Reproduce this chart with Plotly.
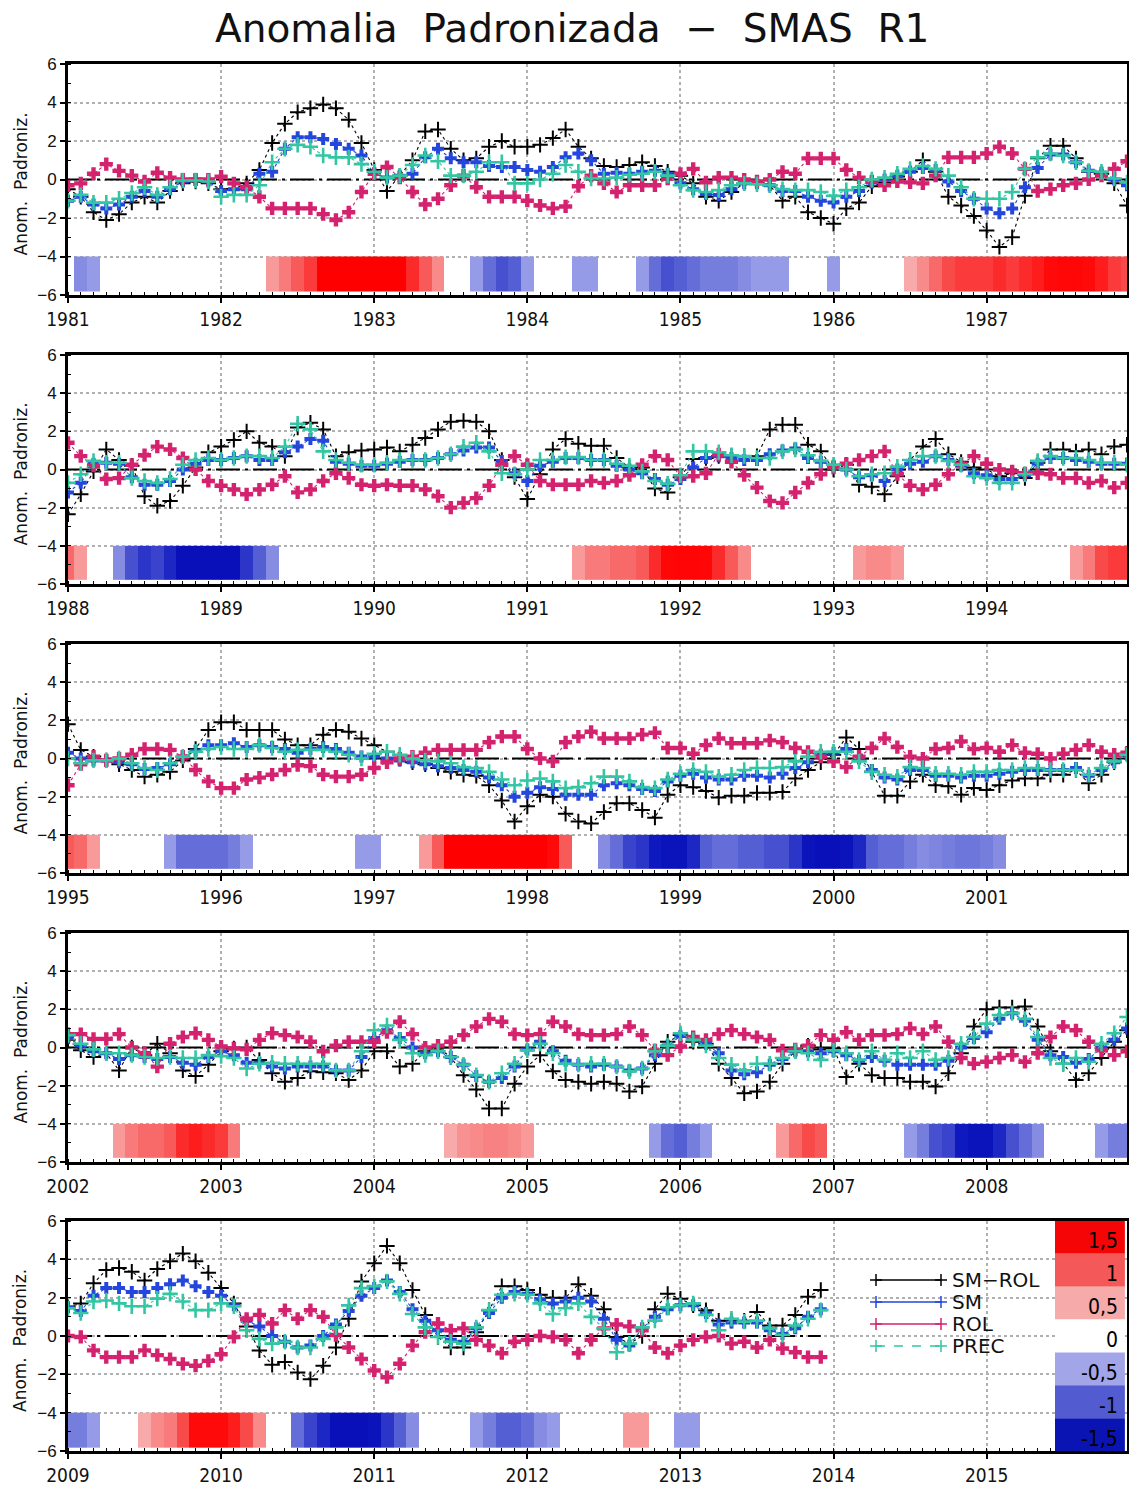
import plotly.graph_objects as go

# ------------------------------------------------------------------ data
start_years = [1981, 1988, 1995, 2002, 2009]
series_names = ["SM−ROL", "SM", "ROL", "PREC"]

smrol_1981 = [-0.5,-0.9,-1.7,-2.1,-1.8,-1.2,-0.9,-1.2,-0.6,-0.2,-0.1,-0.2,
              -0.5,-0.5,-0.2,0.5,1.9,2.9,3.5,3.7,3.9,3.7,3.1,1.9,
              0.5,-0.6,0.2,1.0,2.5,2.6,1.6,1.0,1.1,1.7,2.0,1.7,
              1.7,1.8,2.15,2.6,1.7,1.1,0.7,0.65,0.75,0.9,0.7,0.4,
              0.2,-0.2,-0.9,-1.1,-0.65,-0.2,-0.2,-0.3,-1.1,-0.9,-1.7,-2.0,
              -2.3,-1.5,-1.2,-0.35,-0.15,0.15,0.4,1.0,0.4,-0.9,-1.35,-1.9,
              -2.65,-3.5,-3.0,-0.85,1.1,1.75,1.75,1.1,0.4,0.3,-0.2,-1.35]
sm_1981 = [-1.1,-0.9,-1.3,-1.5,-1.3,-0.9,-0.6,-0.9,-0.5,-0.1,0.0,-0.1,
           -0.6,-0.5,-0.5,0.3,0.4,1.6,2.2,2.2,2.1,1.85,1.6,1.25,
           0.3,0.1,0.2,0.3,1.15,1.6,1.1,0.9,0.9,0.7,0.65,0.65,
           0.5,0.4,0.65,1.15,1.35,1.0,0.3,0.35,0.3,0.4,0.45,0.3,
           -0.2,-0.5,-0.75,-0.8,-0.5,-0.2,-0.2,-0.3,-0.6,-0.6,-0.9,-1.1,
           -1.2,-0.9,-0.6,-0.15,0.0,0.2,0.4,0.6,0.5,-0.1,-0.6,-1.0,
           -1.5,-1.75,-1.5,-0.4,0.6,1.3,1.3,0.9,0.45,0.35,0.0,-0.3]
rol_1981 = [-0.3,-0.2,0.3,0.8,0.45,0.2,-0.1,0.35,0.1,0.0,0.0,0.0,
            0.15,-0.2,-0.4,-0.9,-1.5,-1.5,-1.5,-1.5,-1.8,-2.1,-1.7,-0.65,
            0.3,0.65,0.1,-0.65,-1.3,-1.0,-0.3,0.2,-0.4,-0.9,-0.9,-0.9,
            -1.1,-1.35,-1.5,-1.4,-0.35,0.2,-0.2,-0.65,-0.3,-0.3,-0.3,0.05,
            0.3,0.55,-0.15,0.1,0.1,0.0,-0.1,0.0,0.4,0.3,1.1,1.1,
            1.1,0.5,0.1,-0.1,-0.3,-0.1,-0.15,-0.2,0.2,1.15,1.15,1.15,
            1.35,1.7,1.35,0.55,-0.6,-0.5,-0.3,-0.2,0.0,0.2,0.55,0.95]
prec_1981 = [-1.1,-0.8,-1.2,-1.2,-1.0,-0.7,-0.4,-0.8,-0.4,-0.05,-0.05,-0.1,
             -0.9,-0.8,-0.8,-0.3,0.9,1.6,1.8,1.7,1.25,1.15,1.15,0.8,
             0.4,0.1,0.2,0.75,1.25,0.95,0.2,0.2,0.4,0.9,0.9,-0.2,
             -0.2,0.0,0.3,0.75,0.4,0.05,0.05,0.1,0.25,0.3,0.4,0.2,
             -0.3,-0.55,-0.65,-0.55,-0.3,-0.2,-0.25,-0.3,-0.5,-0.55,-0.55,-0.65,
             -0.85,-0.55,-0.4,0.0,0.1,0.3,0.55,0.7,0.55,0.2,-0.4,-1.0,
             -1.0,-1.0,-0.65,0.55,1.15,1.35,1.25,0.9,0.45,0.4,0.05,-0.15]
oni_1981 = [0,-0.7,-0.6,0,0,0,0,0,0,0,0,0,
            0,0,0,0,0.6,0.8,1.0,1.2,2.0,2.0,2.0,2.0,
            2.0,2.0,2.0,1.3,1.0,0.7,0,0,-0.6,-0.9,-1.1,-1.0,
            -0.6,0,0,0,-0.6,-0.6,0,0,0,-0.6,-0.9,-1.1,
            -1.0,-0.9,-0.8,-0.8,-0.8,-0.7,-0.6,-0.6,-0.6,0,0,0,
            -0.6,0,0,0,0,0,0.5,0.7,0.9,1.1,1.2,1.2,
            1.2,1.3,1.2,1.3,1.4,1.6,1.7,1.7,1.6,1.4,1.2,1.1]

smrol_1988 = [-2.35,-1.3,-0.1,1.05,0.5,0.2,-1.4,-1.9,-1.65,-0.85,0.1,0.9,
              1.2,1.55,2.0,1.4,1.2,0.7,2.2,2.45,2.1,0.7,0.9,1.0,
              1.05,1.15,0.95,1.3,1.65,2.1,2.5,2.55,2.5,2.0,0.5,-0.4,
              -1.55,-0.25,1.05,1.6,1.35,1.25,1.25,0.6,0.1,0.1,-1.0,-1.2,
              -0.4,0.55,0.6,0.7,0.7,0.7,0.7,2.1,2.35,2.35,1.3,0.95,
              0.0,0.25,-0.8,-0.9,-1.3,-0.35,0.5,1.2,1.6,0.8,0.4,0.1,
              0.0,-0.35,-0.2,-0.45,0.35,1.05,1.05,0.95,1.05,0.8,1.2,1.3]
sm_1988 = [-1.2,-0.7,0.3,0.35,0.3,-0.4,-0.8,-0.8,-0.6,0.0,0.3,0.5,
           0.5,0.6,0.7,0.5,0.5,0.9,1.2,1.6,1.5,0.4,0.3,0.2,
           0.2,0.3,0.4,0.5,0.5,0.6,0.8,1.0,1.15,1.15,0.45,-0.2,
           -0.6,0.2,0.4,0.6,0.6,0.5,0.5,0.2,0.0,-0.2,-0.5,-0.8,
           -0.5,0.1,0.6,0.7,0.6,0.5,0.5,0.8,1.0,1.1,0.6,0.4,
           0.2,0.0,-0.4,-0.3,-0.6,0.0,0.3,0.4,0.7,0.5,0.2,-0.2,
           -0.3,-0.5,-0.5,-0.3,0.3,0.6,0.6,0.5,0.4,0.3,0.3,0.3]
rol_1988 = [1.4,0.7,0.2,-0.5,-0.45,0.25,0.75,1.2,1.05,0.6,0.0,-0.6,
            -0.85,-1.05,-1.3,-1.05,-0.8,-0.35,-1.2,-1.05,-0.6,-0.2,-0.45,-0.8,
            -0.85,-0.8,-0.85,-0.85,-1.05,-1.4,-2.0,-1.75,-1.5,-0.85,0.25,0.7,
            0.25,-0.6,-0.8,-0.8,-0.8,-0.6,-0.7,-0.6,-0.3,0.25,0.7,0.5,
            -0.35,-0.35,-0.2,0.8,0.4,-0.3,-0.95,-1.65,-1.75,-1.2,-0.7,-0.25,
            0.1,0.3,0.5,0.7,0.95,-0.25,-0.85,-1.05,-0.8,-0.25,0.3,0.7,
            0.3,0.0,-0.1,-0.2,-0.2,-0.25,-0.45,-0.45,-0.7,-0.6,-0.95,-0.7]
prec_1988 = [-0.7,-0.25,0.45,0.35,0.35,-0.45,-0.6,-0.7,-0.5,0.25,0.5,0.6,
             0.5,0.6,0.7,0.7,0.6,1.2,2.4,2.1,0.95,0.5,0.35,0.25,
             0.25,0.35,0.5,0.5,0.5,0.6,0.8,1.2,1.4,0.95,-0.2,-0.25,
             0.0,0.5,0.5,0.65,0.65,0.5,0.5,0.3,0.2,-0.1,-0.6,-0.75,
             -0.3,0.95,0.95,0.9,0.75,0.7,0.6,0.6,0.95,1.05,0.75,0.45,
             0.25,0.0,-0.35,-0.25,-0.2,0.15,0.5,0.7,0.7,0.45,0.25,-0.35,
             -0.45,-0.7,-0.7,-0.25,0.45,0.7,0.6,0.6,0.5,0.35,0.35,0.25]
oni_1988 = [0.9,0.6,0,0,-0.7,-1.1,-1.3,-1.2,-1.4,-1.8,-1.8,-1.8,
            -1.8,-1.8,-1.3,-1.0,-0.7,0,0,0,0,0,0,0,
            0,0,0,0,0,0,0,0,0,0,0,0,
            0,0,0,0,0.6,0.8,0.8,0.9,0.9,1.0,1.3,1.7,
            1.8,1.8,1.7,1.3,1.0,0.7,0,0,0,0,0,0,
            0,0,0.6,0.7,0.7,0.6,0,0,0,0,0,0,
            0,0,0,0,0,0,0,0.6,0.8,1.1,1.2,1.2]

smrol_1995 = [1.8,0.45,0.1,-0.1,-0.3,-0.6,-0.95,-0.85,-0.7,-0.1,0.5,1.5,
              1.9,1.9,1.5,1.5,1.5,1.0,0.7,0.7,1.25,1.5,1.4,1.05,
              0.7,0.35,0.0,-0.2,-0.3,-0.5,-0.7,-0.85,-0.9,-1.4,-2.2,-3.3,
              -2.5,-1.9,-2.0,-2.9,-3.3,-3.4,-2.8,-2.35,-2.35,-2.7,-3.1,-1.9,
              -1.4,-1.5,-1.7,-2.05,-1.95,-1.95,-1.8,-1.8,-1.75,-1.05,-0.6,-0.2,
              0.2,1.1,0.5,-0.7,-1.95,-1.95,-1.2,-0.85,-1.4,-1.45,-1.9,-1.55,
              -1.65,-1.4,-1.15,-1.05,-1.05,-0.85,-0.85,-0.6,-1.3,-0.85,-0.2,0.25]
sm_1995 = [0.3,0.0,-0.1,-0.1,-0.2,-0.3,-0.55,-0.5,-0.3,0.1,0.4,0.7,
           0.7,0.8,0.6,0.7,0.6,0.5,0.3,0.5,0.6,0.5,0.3,0.1,
           0.1,0.0,-0.1,-0.2,-0.3,-0.4,-0.5,-0.6,-0.7,-1.0,-1.4,-2.0,
           -1.8,-1.5,-1.6,-1.9,-1.9,-1.9,-1.4,-1.3,-1.4,-1.6,-1.7,-1.2,
           -0.9,-0.8,-1.0,-1.1,-1.1,-0.9,-0.9,-1.0,-0.8,-0.5,-0.2,0.2,
           0.3,0.5,0.0,-0.6,-1.0,-1.1,-0.6,-0.6,-0.9,-0.9,-1.0,-0.9,
           -0.9,-0.8,-0.7,-0.6,-0.6,-0.6,-0.6,-0.5,-0.9,-0.6,-0.2,0.2]
rol_1995 = [-1.4,-0.3,0.1,-0.1,0.0,0.2,0.5,0.5,0.45,0.1,-0.6,-1.2,
            -1.55,-1.55,-1.1,-1.0,-0.85,-0.6,-0.35,-0.4,-0.85,-0.95,-0.95,-0.85,
            -0.5,-0.2,0.0,0.1,0.3,0.45,0.45,0.45,0.45,0.85,1.15,1.15,
            0.5,0.0,-0.15,0.85,1.15,1.4,1.05,1.05,1.05,1.25,1.35,0.55,
            0.55,0.25,0.7,1.05,0.8,0.8,0.8,0.95,0.85,0.55,0.35,0.1,
            -0.15,-0.45,0.1,0.55,1.05,0.6,0.1,0.0,0.5,0.55,0.9,0.5,
            0.55,0.35,0.7,0.3,0.25,0.0,0.25,0.45,0.7,0.35,0.2,0.3]
prec_1995 = [0.0,-0.25,-0.1,-0.1,0.0,-0.25,-0.5,-0.6,-0.25,0.1,0.35,0.5,
             0.6,0.5,0.5,0.7,0.55,0.35,0.45,0.45,0.45,0.35,0.2,0.0,
             0.25,0.35,0.2,0.0,-0.1,-0.15,-0.25,-0.45,-0.5,-0.7,-1.1,-1.4,
             -1.15,-1.05,-1.2,-1.55,-1.5,-1.3,-0.95,-0.95,-1.2,-1.5,-1.55,-1.1,
             -0.8,-0.6,-0.7,-0.95,-0.85,-0.6,-0.5,-0.5,-0.45,-0.15,0.1,0.35,
             0.35,0.35,-0.15,-0.7,-0.85,-0.95,-0.45,-0.5,-0.8,-0.8,-0.85,-0.7,
             -0.7,-0.6,-0.6,-0.5,-0.5,-0.6,-0.6,-0.6,-0.85,-0.5,-0.15,0.2]
oni_1995 = [1.0,0.9,0.6,0,0,0,0,0,-0.6,-0.9,-0.9,-0.9,
            -0.9,-0.8,-0.6,0,0,0,0,0,0,0,0,-0.6,
            -0.6,0,0,0,0.6,1.0,2.0,2.0,2.0,2.0,2.0,2.0,
            2.0,2.0,1.6,1.0,0,0,-0.7,-0.9,-1.2,-1.3,-1.5,-1.7,
            -1.7,-1.4,-1.0,-0.9,-0.9,-1.0,-1.0,-1.1,-1.1,-1.3,-1.7,-1.8,
            -1.8,-1.7,-1.4,-1.0,-0.9,-0.9,-0.8,-0.7,-0.75,-0.8,-0.85,-0.85,
            -0.8,-0.7,0,0,0,0,0,0,0,0,0,0]

smrol_2002 = [0.4,-0.15,-0.5,-0.3,-1.2,0.0,-0.4,0.2,-0.3,-1.2,-1.5,-0.9,
              -0.2,-0.05,0.0,-0.65,-1.35,-1.8,-1.6,-1.25,-1.3,-1.35,-1.7,-1.2,
              -0.2,-0.2,-1.0,-0.85,-0.2,0.0,-0.5,-1.45,-2.2,-3.2,-3.2,-1.9,
              -1.0,-0.4,-1.25,-1.7,-1.8,-1.9,-1.8,-1.9,-2.3,-2.05,-0.85,0.3,
              0.65,0.3,0.2,-0.85,-1.6,-2.4,-2.3,-1.8,-0.85,-0.2,0.1,-0.1,
              -0.05,-1.55,-0.85,-1.45,-1.6,-1.6,-1.8,-1.8,-2.05,-1.35,-0.3,1.1,
              2.0,2.1,2.1,2.15,1.1,-0.2,-0.85,-1.7,-1.35,-0.55,0.3,0.9]
sm_2002 = [0.5,0.1,-0.2,-0.3,-0.6,-0.4,-0.5,-0.6,-0.5,-0.8,-0.9,-0.5,
           -0.2,-0.4,-0.8,-0.8,-1.0,-1.1,-1.0,-1.0,-1.0,-1.2,-1.2,-0.5,
           0.5,0.9,0.5,0.0,-0.3,-0.2,-0.5,-0.9,-1.5,-1.8,-1.6,-1.0,
           -0.1,0.3,-0.2,-0.7,-0.9,-1.0,-0.9,-1.0,-1.2,-1.1,-0.4,0.1,
           0.6,0.4,0.2,-0.3,-1.2,-1.4,-1.3,-0.9,-0.6,-0.2,-0.2,-0.3,
           -0.2,-0.4,-0.7,-0.5,-0.7,-0.9,-0.9,-0.9,-0.9,-0.7,0.0,0.5,
           0.8,1.5,1.8,1.4,0.4,-0.4,-0.5,-0.8,-0.6,0.0,0.4,1.0]
rol_2002 = [0.7,0.7,0.45,0.45,0.7,0.0,-0.3,-1.0,0.2,0.55,0.75,0.4,
            0.05,-0.05,-0.1,0.4,0.75,0.65,0.55,0.3,-0.2,0.1,0.3,0.3,
            0.3,0.8,1.35,0.7,0.0,0.1,0.3,0.65,1.1,1.5,1.35,0.7,
            0.65,0.7,1.35,1.1,0.7,0.65,0.65,0.7,1.1,0.65,-0.15,-0.4,
            0.05,0.55,0.4,0.7,0.9,0.7,0.55,0.4,-0.15,-0.1,0.1,0.65,
            0.4,0.8,0.4,0.65,0.65,0.7,1.0,0.7,1.1,0.3,-0.55,-0.85,
            -0.75,-0.55,-0.4,-0.75,-0.3,0.55,1.1,0.9,0.3,-0.15,-0.4,-0.2]
prec_2002 = [0.65,0.2,-0.1,-0.3,-0.3,-0.4,-0.5,-0.55,-0.5,-0.55,-0.55,-0.4,
             -0.45,-0.55,-1.1,-0.85,-0.8,-0.85,-0.85,-0.85,-0.85,-1.2,-1.2,-0.2,
             0.9,1.15,0.4,-0.3,-0.4,-0.2,-0.5,-0.9,-1.45,-1.8,-1.35,-0.85,
             -0.15,0.2,-0.3,-0.85,-0.9,-0.85,-0.85,-1.0,-1.25,-1.1,-0.2,0.1,
             0.75,0.4,0.1,-0.55,-0.9,-1.2,-0.85,-0.85,-0.55,-0.2,-0.3,-0.65,
             -0.15,-0.3,-0.65,-0.2,-0.65,-0.3,-0.55,-0.2,-0.65,-0.55,0.2,0.55,
             1.25,1.7,1.8,1.5,0.55,-0.55,-0.85,-0.55,-0.75,0.2,0.75,1.6]
oni_2002 = [0,0,0,0,0.6,0.8,0.9,0.9,1.0,1.3,1.4,1.3,
            1.2,0.8,0,0,0,0,0,0,0,0,0,0,
            0,0,0,0,0,0,0.5,0.65,0.7,0.75,0.75,0.7,
            0.6,0,0,0,0,0,0,0,0,0,-0.6,-0.9,
            -1.0,-0.8,-0.6,0,0,0,0,0,0.6,0.9,1.1,1.0,
            0,0,0,0,0,0,-0.6,-0.8,-1.1,-1.2,-1.5,-1.7,
            -1.7,-1.4,-1.1,-0.9,-0.7,0,0,0,0,-0.6,-0.8,-0.8]

smrol_2009 = [1.5,1.7,2.75,3.45,3.55,3.35,2.9,3.5,3.9,4.3,3.9,3.3,
              2.5,1.7,0.5,-0.75,-1.5,-1.35,-1.9,-2.25,-1.55,-0.6,0.9,2.85,
              3.8,4.7,3.8,2.4,1.1,-0.05,-0.6,-0.6,0.2,1.35,2.6,2.6,
              2.4,2.15,2.0,2.0,2.7,2.1,1.4,-0.05,-0.4,0.0,1.4,2.2,
              1.95,1.6,1.35,0.8,0.8,0.8,1.25,0.55,0.55,1.1,2.05,2.4]
sm_2009 = [1.5,1.3,2.1,2.5,2.5,2.3,2.3,2.5,2.7,2.9,2.6,2.3,
           2.1,1.6,0.8,0.5,0.0,-0.3,-0.6,-0.5,0.0,0.6,1.3,2.1,
           2.5,2.9,2.3,1.4,0.8,0.3,-0.2,-0.3,0.4,1.2,2.0,2.3,
           2.2,1.9,1.7,1.8,2.0,1.8,0.9,-0.2,-0.5,0.4,1.0,1.4,
           1.6,1.6,1.2,0.6,0.7,0.7,0.7,0.3,0.1,0.4,1.0,1.4]
rol_2009 = [0.0,-0.05,-0.75,-1.1,-1.1,-1.1,-0.75,-1.0,-1.2,-1.45,-1.55,-1.3,
            -0.95,-0.05,0.9,1.1,0.65,1.35,0.9,1.35,1.0,0.05,-0.6,-1.2,
            -1.8,-2.15,-1.45,-0.5,0.2,0.65,0.3,0.4,-0.2,-0.5,-0.9,-0.3,
            -0.2,0.0,-0.05,-0.2,-0.9,-0.2,0.4,0.6,0.5,0.3,-0.6,-0.9,
            -0.5,-0.2,-0.05,0.0,-0.4,-0.3,-0.6,-0.2,-0.65,-0.85,-1.1,-1.1]
prec_2009 = [1.45,1.2,1.8,1.85,1.7,1.55,1.55,1.95,2.2,1.8,1.35,1.35,
             1.7,1.55,0.3,-0.15,-0.4,-0.3,-0.6,-0.6,-0.15,0.45,1.6,2.5,
             2.6,2.85,2.2,1.15,0.45,-0.05,-0.3,-0.4,0.45,1.35,2.15,2.2,
             2.15,1.7,1.15,1.45,1.7,1.0,0.4,-0.85,-0.4,0.45,0.8,1.5,
             1.6,1.7,1.1,0.3,0.9,0.75,0.8,0.4,0.05,0.55,0.9,1.35]
oni_2009 = [-0.8,-0.8,-0.6,0,0,0,0.5,0.7,0.8,1.1,1.6,1.6,
            1.6,1.4,1.1,0.7,0,0,-0.9,-1.2,-1.4,-1.8,-1.8,-1.8,
            -1.7,-1.3,-1.0,-0.7,0,0,0,0,-0.6,-0.8,-1.0,-1.0,
            -0.9,-0.7,-0.6,0,0,0,0,0,0.6,0.6,0,0,
            -0.6,-0.6,0,0,0,0,0,0,0,0,0,0]

panels = [
    (smrol_1981, sm_1981, rol_1981, prec_1981, oni_1981),
    (smrol_1988, sm_1988, rol_1988, prec_1988, oni_1988),
    (smrol_1995, sm_1995, rol_1995, prec_1995, oni_1995),
    (smrol_2002, sm_2002, rol_2002, prec_2002, oni_2002),
    (smrol_2009, sm_2009, rol_2009, prec_2009, oni_2009),
]
months_per_panel = 84
cbar_labels = ["1,5", "1", "0,5", "0", "-0,5", "-1", "-1,5"]
cbar_colors = ["rgb(245,5,5)", "rgb(245,88,88)", "rgb(246,170,170)", "rgb(255,255,255)",
               "rgb(162,166,232)", "rgb(82,92,208)", "rgb(10,20,178)"]

# ------------------------------------------------------------------ style
W, H = 1129, 1485
tops = [64, 355, 644, 933, 1221]
bots = [295, 584, 873, 1162, 1451]
XL, XR = 68, 1127

col = {"SM−ROL": "#000000", "SM": "#2446dc", "ROL": "#d4226f", "PREC": "#33c6a3"}
mk = {
    "SM−ROL": dict(symbol="cross-thin", size=11, line=dict(width=2, color=col["SM−ROL"])),
    "SM": dict(symbol="cross", size=10, color=col["SM"], line=dict(width=0)),
    "ROL": dict(symbol="cross", size=11, color=col["ROL"], line=dict(width=0)),
    "PREC": dict(symbol="cross-thin", size=11, line=dict(width=2.6, color=col["PREC"])),
}
strip_cs = [[0.0, "rgb(5,10,180)"], [0.125, "rgb(15,25,192)"], [0.25, "rgb(85,95,212)"],
            [0.375, "rgb(165,170,234)"], [0.5, "rgb(255,255,255)"],
            [0.625, "rgb(248,170,170)"], [0.75, "rgb(248,90,90)"],
            [0.875, "rgb(255,12,12)"], [1.0, "rgb(255,0,0)"]]
narrow = "Liberation Sans Narrow, DejaVu Sans Condensed, Arial Narrow, sans-serif"

fig = go.Figure()
layout = dict(width=W, height=H, margin=dict(l=0, r=0, t=0, b=0),
              paper_bgcolor="white", plot_bgcolor="white", showlegend=False)
annotations = []
shapes = []

for i, (smrol, sm, rol, prec, oni) in enumerate(panels):
    sfx = "" if i == 0 else str(i + 1)
    xa, ya = "x" + sfx, "y" + sfx
    months = list(range(len(smrol)))
    # ENSO strip
    z = [[(v if abs(v) >= 0.5 else None) for v in oni]]
    fig.add_trace(go.Heatmap(z=z, x=list(range(len(oni))), y=[-5.8, -4.0],
                             colorscale=strip_cs, zmin=-2, zmax=2, showscale=False,
                             hoverinfo="skip", xaxis=xa, yaxis=ya))
    # zero reference line
    fig.add_trace(go.Scatter(x=[months[0], months[-1]], y=[0, 0], mode="lines",
                             line=dict(color="black", width=2, dash="24px,5px,3px,5px"),
                             hoverinfo="skip", xaxis=xa, yaxis=ya))
    for name, vals in zip(series_names, (smrol, sm, rol, prec)):
        fig.add_trace(go.Scatter(x=months, y=vals, mode="lines+markers", name=name,
                                 line=dict(color=col[name], width=1.1, dash="dot"),
                                 marker=mk[name], xaxis=xa, yaxis=ya))
    y0 = start_years[i]
    layout["xaxis" + sfx] = dict(
        domain=[XL / W, XR / W], anchor=ya, range=[0, months_per_panel - 1],
        tickmode="array", tickvals=[12 * j for j in range(7)],
        ticktext=[str(y0 + j) for j in range(7)],
        ticks="outside", ticklen=5, tickwidth=2, tickcolor="black",
        showline=True, linewidth=3, linecolor="black", mirror=True,
        showgrid=True, gridcolor="#b0b0b0", griddash="dot", gridwidth=1.5,
        zeroline=False, automargin=False,
        tickfont=dict(family=narrow, size=19, color="#111"),
        minor=dict(dtick=1, tick0=0, ticks="inside", ticklen=3, tickwidth=1,
                   tickcolor="black", showgrid=False))
    layout["yaxis" + sfx] = dict(
        domain=[1 - bots[i] / H, 1 - tops[i] / H], anchor=xa, range=[-6, 6],
        tickmode="array", tickvals=[-6, -4, -2, 0, 2, 4, 6],
        ticks="outside", ticklen=5, tickwidth=2, tickcolor="black",
        showline=True, linewidth=3, linecolor="black", mirror=True,
        showgrid=True, gridcolor="#b0b0b0", griddash="dot", gridwidth=1.5,
        zeroline=False, automargin=False,
        tickfont=dict(family="Liberation Sans, Arial, sans-serif", size=17, color="#111"),
        minor=dict(dtick=1, tick0=0, ticks="inside", ticklen=3, tickwidth=1,
                   tickcolor="black", showgrid=False))
    annotations.append(dict(text="Anom.  Padroniz.", x=20 / W, y=1 - ((tops[i] + bots[i]) / 2 + 5) / H,
                            xref="paper", yref="paper", showarrow=False, textangle=-90,
                            font=dict(family="DejaVu Sans", size=17, color="#111"),
                            xanchor="center", yanchor="middle"))

# title
annotations.append(dict(text="Anomalia  Padronizada  −  SMAS  R1", x=572 / W, y=1 - 28 / H,
                        xref="paper", yref="paper", showarrow=False,
                        font=dict(family="DejaVu Sans", size=39, color="#111"),
                        xanchor="center", yanchor="middle"))

# colour key (last panel)
nb = len(cbar_labels)
for j, (lab, c) in enumerate(zip(cbar_labels, cbar_colors)):
    ytop = 1 - j / nb
    ybot = 1 - (j + 1) / nb
    shapes.append(dict(type="rect", xref="x5 domain", yref="y5 domain",
                       x0=(1055 - XL) / (XR - XL), x1=0.998, y0=ybot, y1=ytop,
                       fillcolor=c, line=dict(width=0), layer="above"))
    annotations.append(dict(text=lab, xref="x5 domain", yref="y5 domain",
                            x=0.993, y=ytop - 0.62 / nb, showarrow=False,
                            xanchor="right", yanchor="middle",
                            font=dict(family=narrow, size=21, color="black")))

# legend (last panel)
leg_px = [1280, 1302, 1324, 1346]
leg_y = [(1451 - p) / 230 for p in leg_px]
lx0, lx1 = (876 - XL) / (XR - XL), (941 - XL) / (XR - XL)
hx, hy = 6 / (XR - XL), 6 / 230
for name, yy in zip(series_names, leg_y):
    dash = "dash" if name == "PREC" else "solid"
    shapes.append(dict(type="line", xref="x5 domain", yref="y5 domain",
                       x0=lx0, x1=lx1, y0=yy, y1=yy,
                       line=dict(color=col[name], width=1.5, dash=dash)))
    for xe in (lx0, lx1):
        shapes.append(dict(type="line", xref="x5 domain", yref="y5 domain",
                           x0=xe - hx, x1=xe + hx, y0=yy, y1=yy,
                           line=dict(color=col[name], width=1.5)))
        shapes.append(dict(type="line", xref="x5 domain", yref="y5 domain",
                           x0=xe, x1=xe, y0=yy - hy, y1=yy + hy,
                           line=dict(color=col[name], width=1.5)))
    annotations.append(dict(text=name, xref="x5 domain", yref="y5 domain",
                            x=(950 - XL) / (XR - XL), y=yy, showarrow=False,
                            xanchor="left", yanchor="middle",
                            font=dict(family="DejaVu Sans", size=20, color="#111")))

layout["annotations"] = annotations
layout["shapes"] = shapes
fig.update_layout(**layout)
fig.write_html("out.html")
